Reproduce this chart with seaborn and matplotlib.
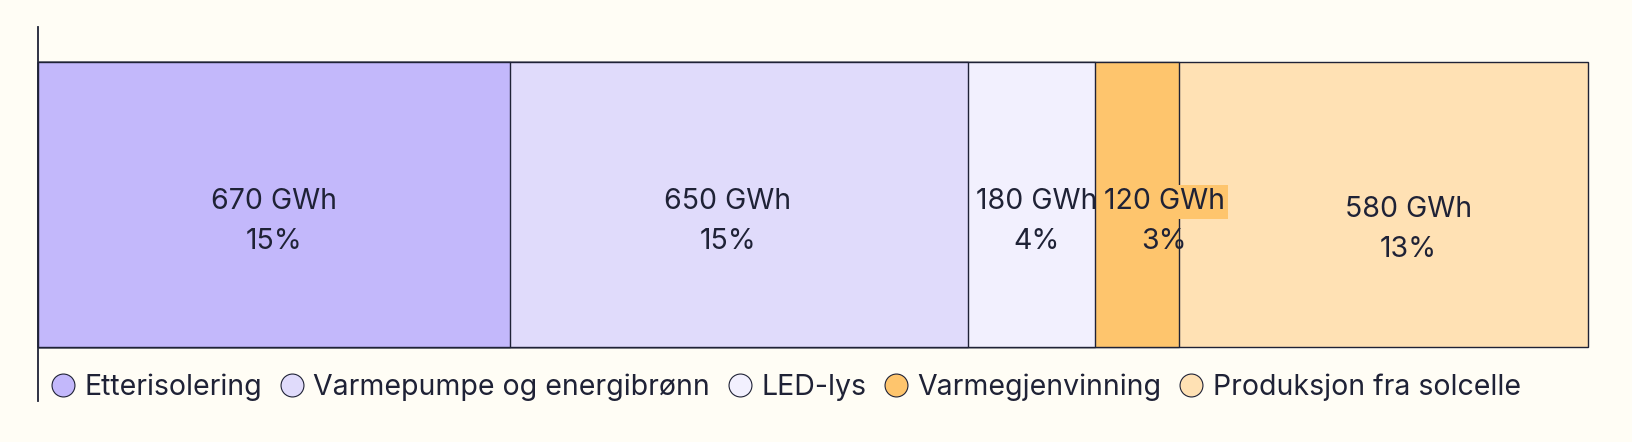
import numpy as np
import matplotlib
matplotlib.use("Agg")
import matplotlib.pyplot as plt
from matplotlib.lines import Line2D
import seaborn as sns

# Data
categories = ["Etterisolering", "Varmepumpe og energibrønn", "LED-lys",
              "Varmegjenvinning", "Produksjon fra solcelle"]
gwh = [670, 650, 180, 120, 580]
pct_labels = ["15%", "15%", "4%", "3%", "13%"]
colors = ["#c3b8fb", "#e0dbfb", "#f2f0fe", "#fec56d", "#ffe1b4"]

BG = "#fffdf5"
DARK = "#1f2236"
FS = 20.5

sns.set_theme(style="white", rc={"figure.facecolor": BG, "axes.facecolor": BG,
                                 "savefig.facecolor": BG})
plt.rcParams["font.family"] = ["Inter", "DejaVu Sans"]

fig = plt.figure(figsize=(16.32, 4.42), dpi=100)
ax = fig.add_axes([38 / 1632, 41 / 442, 1550 / 1632, 374 / 442])

cum = np.cumsum(gwh)
# stacked bar: draw cumulative totals, largest first
for i in range(len(gwh) - 1, -1, -1):
    sns.barplot(x=[cum[i]], y=["total"], orient="h", color=colors[i],
                saturation=1, width=0.8, edgecolor=DARK, linewidth=1.0, ax=ax)
for p in ax.patches:
    p.set_clip_on(False)

ax.set_xlim(0, cum[-1])
ax.set_ylim(-0.5516, 0.4982)
ax.set_xlabel("")
ax.set_ylabel("")
ax.set_xticks([])
ax.set_yticks([])
for s in ["top", "right", "bottom"]:
    ax.spines[s].set_visible(False)
ax.spines["left"].set_color(DARK)
ax.spines["left"].set_linewidth(1.3)

# label offsets (pixels) relative to segment centre, baseline position
dx = [0, -11, 5, 27, 25]
dy = [-5, -5, -5, -5, -12.5]
starts = cum - np.array(gwh)
for i, v in enumerate(gwh):
    xc = starts[i] + v / 2
    box = None
    if i == 3:
        box = dict(boxstyle="square,pad=0.12", fc=colors[3], ec="none")
    ax.annotate(f"{v} GWh", xy=(xc, 0), xytext=(dx[i] * 0.72, dy[i] * 0.72),
                textcoords="offset points", ha="center", va="baseline",
                fontsize=FS, color=DARK, bbox=box, zorder=5)
    ax.annotate(pct_labels[i], xy=(xc, 0), xytext=(dx[i] * 0.72, (dy[i] - 40) * 0.72),
                textcoords="offset points", ha="center", va="baseline",
                fontsize=FS, color=DARK, zorder=5)

handles = [Line2D([], [], marker="o", ls="", markersize=16.5, markerfacecolor=c,
                  markeredgecolor=DARK, markeredgewidth=0.8) for c in colors]
fig.legend(handles, categories, loc="center left", bbox_to_anchor=(51 / 1632, 55 / 442),
           ncol=5, frameon=False, fontsize=FS, handlelength=0.82, handletextpad=0.35,
           columnspacing=0.63, borderpad=0, borderaxespad=0, labelcolor=DARK)

plt.savefig("out.png", dpi=100, facecolor=BG)
plt.close()
